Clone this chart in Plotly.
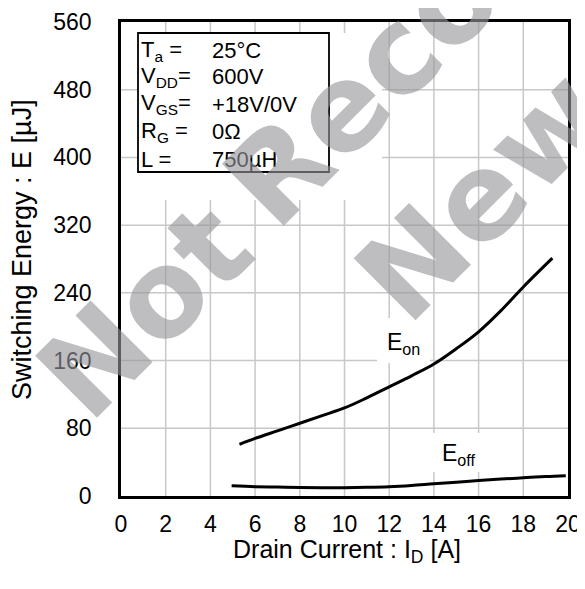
import math
import plotly.graph_objects as go

# ---------------- data ----------------
eon_current = [5.3, 6, 7, 8, 9, 10, 11, 12, 13, 14, 15, 16, 17, 18, 19.3]
eon_energy = [61, 68, 77, 86, 95, 104, 116, 129, 142, 156, 174, 194, 219, 247, 281]

eoff_current = [4.95, 6, 7, 8, 9, 10, 11, 12, 13, 14, 15, 16, 17, 18, 19, 19.9]
eoff_energy = [12, 11, 10.5, 10, 9.8, 9.8, 10.2, 11, 12.5, 14.5, 16.3, 18.3, 20, 21.5, 23, 24]

x_ticks = [0, 2, 4, 6, 8, 10, 12, 14, 16, 18, 20]
y_ticks = [0, 80, 160, 240, 320, 400, 480, 560]

cond_labels = ["T<sub>a</sub> =", "V<sub>DD</sub>=", "V<sub>GS</sub>=", "R<sub>G</sub> =", "L ="]
cond_values = ["25°C", "600V", "+18V/0V", "0Ω", "750µH"]

watermark_words = ["Not", "Recommended for", "New Designs"]

# ---------------- layout geometry ----------------
OFF = 8                      # page body margin of the html page
W, H = 585 - OFF, 589 - OFF
ML, MR, MT, MB = 113, 17, 14, 93
X0W, X1W = ML + OFF, OFF + W - MR          # plot area in window pixels
Y0W, Y1W = MT + OFF, OFF + H - MB
FONT = "Liberation Sans, Arial, sans-serif"
WM_FONT = "DejaVu Sans, Verdana, sans-serif"
XR, YR = [0, 20], [0, 560]


def px(xw):
    return (xw - X0W) / (X1W - X0W)


def py(yw):
    return (Y1W - yw) / (Y1W - Y0W)


def dx(xw):
    return XR[0] + px(xw) * (XR[1] - XR[0])


def dy(yw):
    return YR[0] + py(yw) * (YR[1] - YR[0])


fig = go.Figure()
for xs, ys in [(eon_current, eon_energy), (eoff_current, eoff_energy)]:
    fig.add_trace(go.Scatter(x=xs, y=ys, mode="lines",
                             line=dict(color="black", width=3, shape="spline", smoothing=1.0),
                             showlegend=False, hoverinfo="skip"))

GRID = dict(color="#c8c8c8", width=1.5)
shapes = []
for v in x_ticks[1:-1]:
    shapes.append(dict(type="line", xref="x", yref="y", x0=v, x1=v, y0=YR[0], y1=YR[1],
                       line=GRID, layer="below"))
for v in y_ticks[1:-1]:
    shapes.append(dict(type="line", xref="x", yref="y", x0=XR[0], x1=XR[1], y0=v, y1=v,
                       line=GRID, layer="below"))
# white areas masking the grid (behind the condition box and curve labels)
for (x0, y0, x1, y1) in [(138, 33, 382, 200), (377, 318, 430, 363), (431, 433, 481, 472)]:
    shapes.append(dict(type="rect", xref="x", yref="y",
                       x0=dx(x0), x1=dx(x1), y0=dy(y1), y1=dy(y0),
                       fillcolor="white", line=dict(width=0), layer="below"))
shapes.append(dict(type="rect", xref="x", yref="y",
                   x0=dx(138), x1=dx(329), y0=dy(172), y1=dy(33),
                   fillcolor="rgba(0,0,0,0)", line=dict(color="black", width=1.8), layer="below"))

annotations = []
cond_y = [50.6, 76.6, 104, 131.6, 159]
for lab, val, yc in zip(cond_labels, cond_values, cond_y):
    annotations.append(dict(text=lab, xref="paper", yref="paper", x=px(139), y=py(yc),
                            xanchor="left", yanchor="middle", showarrow=False,
                            font=dict(family=FONT, size=22, color="black")))
    annotations.append(dict(text=val, xref="paper", yref="paper", x=px(210), y=py(yc),
                            xanchor="left", yanchor="middle", showarrow=False,
                            font=dict(family=FONT, size=22, color="black")))

annotations.append(dict(text="E<sub>on</sub>", xref="paper", yref="paper", x=px(385), y=py(343),
                        xanchor="left", yanchor="middle", showarrow=False,
                        font=dict(family=FONT, size=23, color="black")))
annotations.append(dict(text="E<sub>off</sub>", xref="paper", yref="paper", x=px(440), y=py(454),
                        xanchor="left", yanchor="middle", showarrow=False,
                        font=dict(family=FONT, size=23, color="black")))

annotations.append(dict(text="Drain Current : I<sub>D</sub> [A]", xref="paper", yref="paper",
                        x=px(347), y=py(551), xanchor="center", yanchor="middle", showarrow=False,
                        font=dict(family=FONT, size=25, color="black")))
annotations.append(dict(text="Switching Energy : E [µJ]", xref="paper", yref="paper",
                        x=px(22), y=py(250), xanchor="center", yanchor="middle", showarrow=False,
                        textangle=-90, font=dict(family=FONT, size=27, color="black")))

# watermark: each word placed by the bottom-left corner of its first letter (window px)
WF = 120
wm_font = dict(family=WM_FONT, size=WF, color="rgba(150,150,155,0.62)")
r2 = math.sqrt(0.5)
starts = [(95.5, 419.5), (282, 227), (414.5, 321.5)]
for word, (pxw, pyw) in zip(watermark_words, starts):
    lsb = 0.09 * WF
    ox, oy = pxw - lsb * r2, pyw + lsb * r2
    d = 0.236 * WF + 1
    blx, bly = ox + d * r2 - r2, oy + d * r2 + r2
    hb = 1.164 * WF + 2
    tlx = blx - hb * r2
    annotations.append(dict(text="<b>%s</b>" % word, xref="paper", yref="paper",
                            x=px(tlx), y=py(bly), xanchor="left", yanchor="bottom",
                            textangle=-45, showarrow=False, font=wm_font))

fig.update_layout(
    width=W, height=H,
    margin=dict(l=ML, r=MR, t=MT, b=MB, autoexpand=False),
    paper_bgcolor="white", plot_bgcolor="rgba(0,0,0,0)",
    font=dict(family=FONT, size=23, color="black"),
    shapes=shapes, annotations=annotations,
    xaxis=dict(range=XR, tickvals=x_ticks, ticktext=[str(v) for v in x_ticks],
               showgrid=False,
               showline=True, linecolor="black", linewidth=2.5, mirror=True,
               ticks="", ticklabelstandoff=6, zeroline=False, automargin=False,
               tickfont=dict(family=FONT, size=23, color="black")),
    yaxis=dict(range=YR, tickvals=y_ticks, ticktext=[str(v) for v in y_ticks],
               showgrid=False,
               showline=True, linecolor="black", linewidth=2.5, mirror=True,
               ticks="", ticklabelstandoff=22, zeroline=False, automargin=False,
               tickfont=dict(family=FONT, size=23, color="black")),
)

fig.write_html("out.html")
